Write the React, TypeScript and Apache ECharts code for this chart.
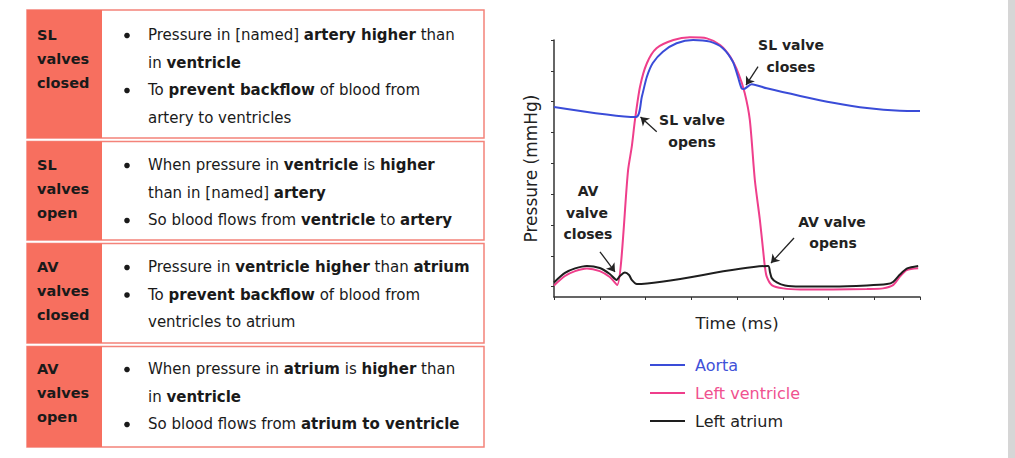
import React, { useEffect, useRef } from "react";
import * as echarts from "echarts";

const FONT = "'DejaVu Sans', Inter, sans-serif";

// ---- Table content ----
const rowLabels: string[][] = [
  ["SL", "valves", "closed"],
  ["SL", "valves", "open"],
  ["AV", "valves", "closed"],
  ["AV", "valves", "open"],
];
const rowLines: { bullet: boolean; text: string }[][] = [
  [
    { bullet: true, text: "Pressure in [named] **artery higher** than" },
    { bullet: false, text: "in **ventricle**" },
    { bullet: true, text: "To **prevent backflow** of blood from" },
    { bullet: false, text: "artery to ventricles" },
  ],
  [
    { bullet: true, text: "When pressure in **ventricle** is **higher**" },
    { bullet: false, text: "than in [named] **artery**" },
    { bullet: true, text: "So blood flows from **ventricle** to **artery**" },
  ],
  [
    { bullet: true, text: "Pressure in **ventricle higher** than **atrium**" },
    { bullet: true, text: "To **prevent backflow** of blood from" },
    { bullet: false, text: "ventricles to atrium" },
  ],
  [
    { bullet: true, text: "When pressure in **atrium** is **higher** than" },
    { bullet: false, text: "in **ventricle**" },
    { bullet: true, text: "So blood flows from **atrium to ventricle**" },
  ],
];

// ---- Chart data (time in ms, pressure in mmHg) ----
const aortaTime = [0, 179, 192, 203, 216, 238, 268, 304, 341, 369, 391, 402, 410, 415, 432, 465, 538, 610, 684, 756, 800];
const aortaPressure = [92.4, 87.5, 97.4, 107.1, 113.8, 119.3, 123.4, 125.0, 124.2, 121.0, 114.4, 107.1, 101.5, 101.2, 103.5, 101.5, 97.8, 94.5, 91.9, 90.6, 90.5];

const lvTime = [0, 24, 46, 72, 100, 122, 138, 162, 170, 177, 188, 203, 224, 261, 297, 334, 363, 385, 403, 417, 428, 439, 450, 457, 461, 465, 476, 501, 538, 610, 684, 719, 741, 756, 771, 796];
const lvPressure = [5.6, 10.2, 12.6, 13.9, 12.6, 9.7, 5.8, 61.8, 73.1, 86.1, 102.3, 113.7, 121.0, 125.0, 126.3, 125.8, 122.6, 116.9, 108.8, 99.1, 86.1, 56.9, 37.5, 22.9, 14.7, 9.9, 5.8, 4.2, 3.7, 3.7, 3.9, 4.2, 5.8, 9.9, 13.1, 14.0];

const laTime = [0, 24, 46, 72, 100, 122, 137, 144, 155, 164, 170, 181, 468, 472, 476, 487, 505, 538, 610, 684, 728, 741, 756, 772, 796];
const laPressure = [7.1, 11.7, 13.9, 15.1, 14.1, 11.2, 8.3, 10.2, 11.9, 10.7, 8.3, 6.3, 15.1, 12.2, 9.2, 7.1, 5.6, 5.1, 5.1, 5.6, 6.3, 7.3, 10.9, 13.9, 15.1];

const yTicks = [5, 20, 35, 50, 65, 80, 95, 110, 125];

// annotation arrows: [time, pressure] from -> to
const arrowFrom = [[446, 112.0], [224.5, 80.4], [100.5, 22.0], [524.6, 28.7]];
const arrowTo = [[419.7, 103.1], [189.1, 87.5], [133.3, 12.2], [474.3, 16.5]];

const seriesNames = ["Aorta", "Left ventricle", "Left atrium"];

const zip = (a: number[], b: number[]) => a.map((v, i) => [v, b[i]]);

function richText(s: string) {
  const parts = s.split("**");
  return parts
    .map((p, i) => (p.length ? `{${i % 2 ? "b" : "n"}|${p}}` : ""))
    .join("");
}

export default function App() {
  const ref = useRef<HTMLDivElement>(null);
  useEffect(() => {
    if (!ref.current) return;
    const chart = echarts.init(ref.current, undefined, { renderer: "svg" });

    const rowTop = [10, 141.5, 243.5, 346.5];
    const rowBottom = [138, 240, 343, 447];
    const firstLine = [35, 165, 267, 369];
    const graphic: any[] = [];
    rowTop.forEach((top, r) => {
      const h = rowBottom[r] - top;
      graphic.push({
        type: "rect",
        shape: { x: 27, y: top, width: 457, height: h },
        style: { fill: "#ffffff", stroke: "#f4837a", lineWidth: 1.5 },
        z: 1,
      });
      graphic.push({
        type: "rect",
        shape: { x: 27, y: top, width: 75, height: h },
        style: { fill: "#f76f5f" },
        z: 2,
      });
      rowLabels[r].forEach((lab, k) => {
        graphic.push({
          type: "text",
          x: 37,
          y: firstLine[r] + k * 24,
          z: 3,
          style: {
            text: lab,
            fontSize: 14.5,
            fontWeight: "bold",
            fontFamily: FONT,
            fill: "#1a1a1a",
            verticalAlign: "middle",
          },
        });
      });
      rowLines[r].forEach((ln, k) => {
        const y = firstLine[r] + k * 27.5;
        if (ln.bullet) {
          graphic.push({
            type: "circle",
            shape: { cx: 127, cy: y + 0.5, r: 2.8 },
            style: { fill: "#1a1a1a" },
            z: 3,
          });
        }
        graphic.push({
          type: "text",
          x: 148,
          y,
          z: 3,
          style: {
            text: richText(ln.text),
            verticalAlign: "middle",
            rich: {
              n: { fontSize: 15, fontFamily: FONT, fill: "#1a1a1a", fontWeight: "normal" },
              b: { fontSize: 15, fontFamily: FONT, fill: "#1a1a1a", fontWeight: "bold" },
            },
          },
        });
      });
    });

    const annotations: [string, number, number][] = [
      ["SL valve", 791, 45],
      ["closes", 791, 67],
      ["SL valve", 692, 120],
      ["opens", 692, 142],
      ["AV", 588, 191],
      ["valve", 587, 213],
      ["closes", 588, 234],
      ["AV valve", 832, 222],
      ["opens", 833, 243],
    ];
    annotations.forEach(([t, x, y]) => {
      graphic.push({
        type: "text",
        x,
        y,
        z: 10,
        style: {
          text: t,
          fontSize: 14,
          fontWeight: "bold",
          fontFamily: FONT,
          fill: "#222",
          align: "center",
          verticalAlign: "middle",
        },
      });
    });
    graphic.push({
      type: "rect",
      shape: { x: 1008, y: 0, width: 7, height: 458 },
      style: { fill: "#d6d6d6" },
    });

    const lineBase = { type: "line", showSymbol: false, symbol: "none", smooth: 0.25, clip: false };

    const option: any = {
      animation: false,
      backgroundColor: "#ffffff",
      grid: { left: 554, top: 40, width: 366, height: 257, outerBoundsMode: "none" },
      xAxis: {
        type: "value",
        min: 0,
        max: 800,
        interval: 100,
        name: "Time (ms)",
        nameLocation: "middle",
        nameGap: 18,
        nameTextStyle: { fontSize: 16.5, color: "#222", fontFamily: FONT },
        axisLine: { show: true, lineStyle: { color: "#333", width: 1.5 } },
        axisTick: { show: true, length: 3, lineStyle: { color: "#333" } },
        axisLabel: { show: false },
        splitLine: { show: false },
      },
      yAxis: {
        type: "value",
        min: 0,
        max: 125,
        name: "Pressure (mmHg)",
        nameLocation: "middle",
        nameGap: 15,
        nameRotate: 90,
        nameTextStyle: { fontSize: 17, color: "#222", fontFamily: FONT },
        axisLine: { show: true, lineStyle: { color: "#333", width: 1.5 } },
        axisTick: { show: true, length: 3, customValues: yTicks, lineStyle: { color: "#333" } },
        axisLabel: { show: false },
        splitLine: { show: false },
      },
      legend: {
        orient: "vertical",
        left: 645,
        top: 352,
        icon: "rect",
        itemWidth: 35,
        itemHeight: 2,
        itemGap: 12,
        textStyle: { fontSize: 16, fontFamily: FONT, padding: [0, 0, 0, 5] },
        data: [
          { name: seriesNames[0], textStyle: { color: "#3f51d8" } },
          { name: seriesNames[1], textStyle: { color: "#f0518f" } },
          { name: seriesNames[2], textStyle: { color: "#222222" } },
        ],
      },
      series: [
        {
          ...lineBase,
          name: seriesNames[1],
          data: zip(lvTime, lvPressure),
          lineStyle: { color: "#ef3e8b", width: 2 },
          itemStyle: { color: "#ef3e8b" },
        },
        {
          ...lineBase,
          name: seriesNames[0],
          data: zip(aortaTime, aortaPressure),
          lineStyle: { color: "#3a4cd8", width: 2 },
          itemStyle: { color: "#3a4cd8" },
        },
        {
          ...lineBase,
          name: seriesNames[2],
          data: zip(laTime, laPressure),
          lineStyle: { color: "#1e1e1e", width: 2 },
          itemStyle: { color: "#1e1e1e" },
          markLine: {
            silent: true,
            symbol: ["none", "arrow"],
            symbolSize: 8,
            label: { show: false },
            lineStyle: { color: "#222", width: 1.3, type: "solid" },
            data: arrowFrom.map((f, i) => [{ coord: f }, { coord: arrowTo[i] }]),
          },
        },
      ],
      graphic,
    };
    chart.setOption(option);
    return () => chart.dispose();
  }, []);
  return (
    <div
      ref={ref}
      style={{ position: "fixed", left: 0, top: 0, width: 1015, height: 458 }}
    />
  );
}
